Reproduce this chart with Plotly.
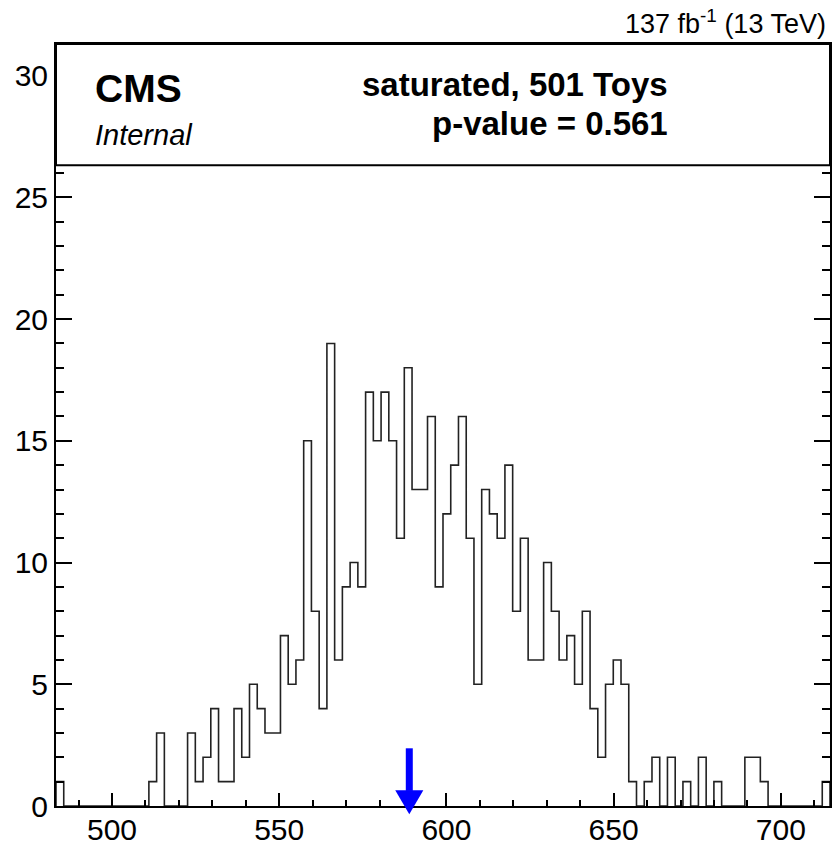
import numpy as np
import plotly.graph_objects as go

# toy distribution of the saturated GoF test statistic
bin_lo = 483.26
bin_hi = 714.7
counts = [1, 0, 0, 0, 0, 0, 0, 0, 0, 0, 0, 0, 1, 3, 0, 0, 0, 3, 1, 2,
          4, 1, 1, 4, 2, 5, 4, 3, 3, 7, 5, 6, 15, 8, 4, 19, 6, 9, 10, 9,
          17, 15, 17, 15, 11, 18, 13, 13, 16, 9, 12, 14, 16, 11, 5, 13, 12, 11, 14, 8,
          11, 6, 6, 10, 8, 6, 7, 5, 8, 4, 2, 5, 6, 5, 1, 0, 1, 2, 0, 2,
          0, 1, 0, 2, 0, 1, 0, 0, 0, 2, 2, 1, 0, 0, 0, 0, 0, 0, 0, 1]
t_obs = 588.9
n_toys = 501
p_value = 0.561
y_max = 31.3

edges = np.linspace(bin_lo, bin_hi, len(counts) + 1)
xs = [bin_lo] + list(edges) + [bin_hi]
ys = [0] + counts + [counts[-1], 0]

fig = go.Figure()
fig.add_trace(go.Scatter(x=xs, y=ys, mode='lines', line_shape='hv',
                         line=dict(color='#222222', width=1.6), hoverinfo='skip'))

# observed value arrow
blue = '#0000ff'
fig.add_shape(type='line', xref='x', yref='y', x0=t_obs, x1=t_obs, y0=2.37, y1=0.62,
              line=dict(color=blue, width=7), layer='above')
hw = 4.2
yb = 0.645 / y_max
yt = -0.34 / y_max
fig.add_shape(type='path', xref='x', yref='paper',
              path=f"M {t_obs-hw},{yb} L {t_obs+hw},{yb} L {t_obs},{yt} Z",
              fillcolor=blue, line=dict(color=blue, width=0), layer='above')

# header box
fig.add_shape(type='rect', xref='paper', yref='paper', x0=0, x1=1, y0=26.32 / y_max, y1=1,
              fillcolor='white', line=dict(color='black', width=2), layer='above')

fnt = 'Liberation Sans'
fig.add_annotation(xref='paper', yref='paper', x=0.0474, y=0.941, xanchor='left', yanchor='middle',
                   text='<b>CMS</b>', showarrow=False, font=dict(family=fnt, size=39, color='black'))
fig.add_annotation(xref='paper', yref='paper', x=0.0482, y=0.881, xanchor='left', yanchor='middle',
                   text='<i>Internal</i>', showarrow=False, font=dict(family=fnt, size=29, color='black'))
fig.add_annotation(xref='paper', yref='paper', x=0.7933, y=0.947, xanchor='right', yanchor='middle',
                   text=f'<b>saturated, {n_toys} Toys</b>', showarrow=False,
                   font=dict(family=fnt, size=33, color='black'))
fig.add_annotation(xref='paper', yref='paper', x=0.7933, y=0.896, xanchor='right', yanchor='middle',
                   text=f'<b>p-value = {p_value:.3f}</b>', showarrow=False,
                   font=dict(family=fnt, size=33, color='black'))
fig.add_annotation(xref='paper', yref='paper', x=0.9975, y=1.029, xanchor='right', yanchor='middle',
                   text='137 fb<sup>-1</sup> (13 TeV)', showarrow=False,
                   font=dict(family=fnt, size=27, color='black'))

fig.update_xaxes(range=[bin_lo, bin_hi], tick0=500, dtick=50, ticks='inside', ticklen=13,
                 tickwidth=1.5, tickcolor='black', automargin=False, ticklabelstandoff=-4,
                 minor=dict(ticks='inside', ticklen=6, dtick=10, tick0=500, tickcolor='black', tickwidth=1.5),
                 showline=True, linewidth=2, linecolor='black', mirror='ticks',
                 showgrid=False, zeroline=False, tickfont=dict(family=fnt, size=30, color='black'))
fig.update_yaxes(range=[0, y_max], tick0=0, dtick=5, ticks='inside', ticklen=16,
                 tickwidth=1.5, tickcolor='black', automargin=False,
                 minor=dict(ticks='inside', ticklen=8, dtick=1, tick0=0, tickcolor='black', tickwidth=1.5),
                 showline=True, linewidth=2, linecolor='black', mirror='ticks',
                 showgrid=False, zeroline=False, tickfont=dict(family=fnt, size=30, color='black'))

fig.update_layout(width=832, height=847, margin=dict(l=56, r=2, t=44, b=41, autoexpand=False),
                  paper_bgcolor='white', plot_bgcolor='white', showlegend=False)

# page has a default body margin; drop it so the figure fills the window
fig.write_html("out.html", config={'displayModeBar': False},
               post_script="document.body.style.margin='0';document.body.style.overflow='hidden';")
